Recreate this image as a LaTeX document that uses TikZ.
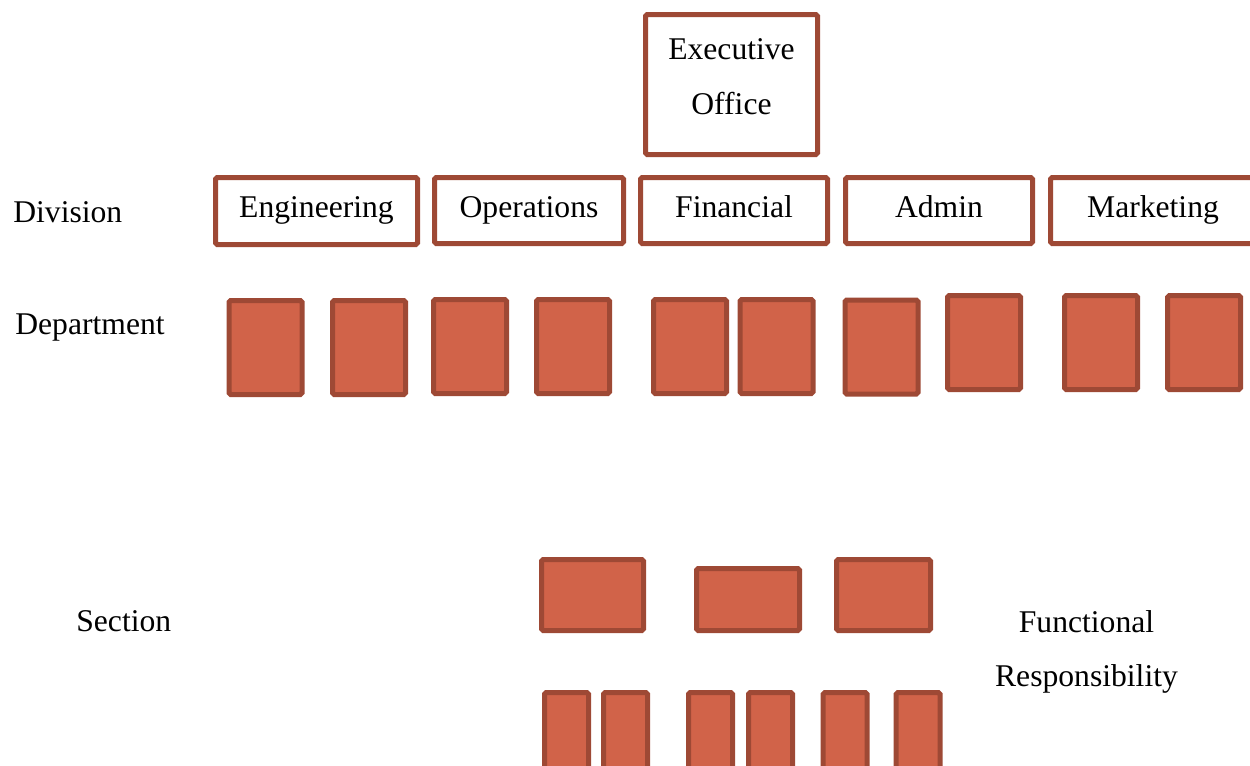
\documentclass[tikz,border=0pt]{standalone}
\usepackage{fontspec}
\setmainfont{Liberation Serif}
\usetikzlibrary{positioning}

\definecolor{boxfill}{HTML}{D16349}
\definecolor{boxline}{HTML}{9E4935}

\tikzset{
    divbox/.style={draw=boxline, line width=0.1cm, rounded corners=1pt, fill=white,
        inner sep=0pt, text height=0.88em, text depth=0.12em},
    unitbox/.style={draw=boxline, fill=boxfill, line width=0.1cm, rounded corners=1pt,
        inner sep=0pt},
    tier/.style={inner sep=0pt}
}

\begin{document}
\begin{tikzpicture}[x=0.02cm, y=-0.02cm, font=\fontsize{18}{31.2}\selectfont]
    \useasboundingbox (0, 0) rectangle (1250, 765);
    \clip (0, 0) rectangle (1250, 765);

    % Executive office
    \node[divbox, minimum width=172*0.02cm, minimum height=140*0.02cm] (exec) at (731.5, 84.5) {};
    \node[tier, align=center] (execname) at (731.5, 77) {Executive\\Office};

    % Division boxes
    \node[divbox, minimum width=202*0.02cm, minimum height=67*0.02cm] (eng) at (316.5, 211) {Engineering};
    \node[divbox, minimum width=189*0.02cm, minimum height=66*0.02cm] (ops) at (529, 210.5) {Operations};
    \node[divbox, minimum width=187*0.02cm, minimum height=66*0.02cm] (fin) at (734, 210.5) {Financial};
    \node[divbox, minimum width=187*0.02cm, minimum height=66*0.02cm] (adm) at (939, 210.5) {Admin};
    \node[divbox, minimum width=205*0.02cm, minimum height=66*0.02cm] (mkt) at (1153, 210.5) {Marketing};

    % Department boxes (two per division)
    \foreach \cx/\cy [count=\i] in {265.5/347.5, 369/347.5, 470/346.5, 573/346.5, 690/346.5,
                                    776.5/346.5, 881.5/347, 984/342.5, 1101/342.5, 1204/342.5} {
        \node[unitbox, minimum width=73*0.02cm, minimum height=94*0.02cm] (dept-\i) at (\cx, \cy) {};
    }

    % Sections
    \node[unitbox, minimum width=102*0.02cm, minimum height=71*0.02cm] (sec-1) at (592.5, 595) {};
    \node[unitbox, minimum width=103*0.02cm, minimum height=62*0.02cm] (sec-2) at (748, 599.5) {};
    \node[unitbox, minimum width=94*0.02cm, minimum height=71*0.02cm] (sec-3) at (883.5, 595) {};

    % Functional responsibilities (run off the bottom)
    \foreach \cx [count=\i] in {566.5, 625.5, 710.5, 770.5, 845, 918} {
        \node[unitbox, minimum width=44*0.02cm, minimum height=100*0.02cm] (fun-\i) at (\cx, 742.5) {};
    }

    % Tier labels
    \node[tier, anchor=base west] (division) at (13, 222) {Division};
    \node[tier, anchor=base west] (department) at (15, 334) {Department};
    \node[tier, anchor=base west] (section) at (76, 631) {Section};
    \node[tier, align=center] (functional) at (1086.5, 652) {Functional\\Responsibility};
\end{tikzpicture}
\end{document}
